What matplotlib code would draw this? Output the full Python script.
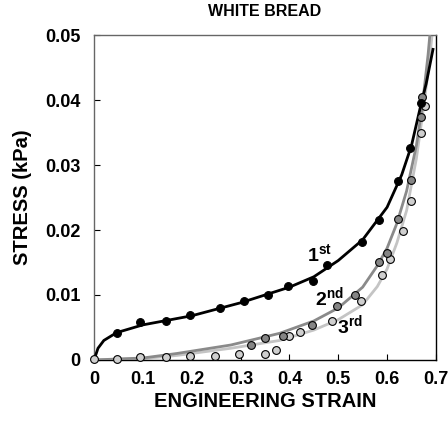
import matplotlib
matplotlib.use("Agg")
import matplotlib.pyplot as plt

plt.rcParams['font.family'] = ['Liberation Sans', 'DejaVu Sans']
plt.rcParams['font.weight'] = 'bold'
plt.rcParams['mathtext.fontset'] = 'custom'
plt.rcParams['mathtext.bf'] = 'Liberation Sans:bold'
plt.rcParams['mathtext.rm'] = 'Liberation Sans:bold'

# 1st compression cycle: measured points and fitted curve
strain_1 = [0.046, 0.095, 0.148, 0.197, 0.258, 0.307, 0.357, 0.398, 0.448,
            0.476, 0.548, 0.584, 0.623, 0.647, 0.670]
stress_1 = [0.0041, 0.0058, 0.0060, 0.0069, 0.0080, 0.0091, 0.0100, 0.0114,
            0.0122, 0.0146, 0.0181, 0.0215, 0.0275, 0.0326, 0.0396]
fit_strain_1 = [0.0, 0.008, 0.02, 0.046, 0.1, 0.2, 0.3, 0.4, 0.45, 0.5, 0.55,
                0.6, 0.63, 0.65, 0.67, 0.68, 0.694]
fit_stress_1 = [0.0, 0.0018, 0.0030, 0.0042, 0.0054, 0.0068, 0.0088, 0.0112,
                0.0128, 0.0153, 0.0185, 0.0235, 0.0285, 0.0330, 0.0395,
                0.0425, 0.0478]

# 2nd cycle
strain_2 = [0.322, 0.349, 0.387, 0.447, 0.498, 0.534, 0.584, 0.599, 0.623,
            0.648, 0.670, 0.672]
stress_2 = [0.0023, 0.0034, 0.0037, 0.0054, 0.0083, 0.0100, 0.0151, 0.0165,
            0.0217, 0.0277, 0.0374, 0.0405]
fit_strain_2 = [0.0, 0.1, 0.17, 0.28, 0.38, 0.45, 0.5, 0.55, 0.58, 0.6, 0.62,
                0.64, 0.66, 0.672, 0.684, 0.69]
fit_stress_2 = [0.0, 0.0003, 0.0010, 0.0023, 0.0041, 0.0060, 0.0080, 0.0112,
                0.0145, 0.0172, 0.0210, 0.0260, 0.0330, 0.0390, 0.0470, 0.0520]

# 3rd cycle
strain_3 = [0.0, 0.046, 0.095, 0.147, 0.197, 0.247, 0.297, 0.349, 0.372,
            0.399, 0.421, 0.487, 0.546, 0.589, 0.607, 0.633, 0.648, 0.669,
            0.677]
stress_3 = [0.0002, 0.0002, 0.0004, 0.0004, 0.0006, 0.0006, 0.0009, 0.0009,
            0.0016, 0.0037, 0.0043, 0.0060, 0.0091, 0.0130, 0.0155, 0.0199,
            0.0244, 0.0350, 0.0391]
fit_strain_3 = [0.0, 0.1, 0.17, 0.28, 0.38, 0.45, 0.5, 0.55, 0.58, 0.6, 0.62,
                0.64, 0.66, 0.675, 0.685, 0.695]
fit_stress_3 = [0.0, 0.0002, 0.0007, 0.0018, 0.0030, 0.0046, 0.0062, 0.0085,
                0.0113, 0.0140, 0.0180, 0.0230, 0.0310, 0.0390, 0.0450, 0.0520]

xticks = [0, 0.1, 0.2, 0.3, 0.4, 0.5, 0.6, 0.7]
xtick_labels = ['0', '0.1', '0.2', '0.3', '0.4', '0.5', '0.6', '0.7']
yticks = [0, 0.01, 0.02, 0.03, 0.04, 0.05]
ytick_labels = ['0', '0.01', '0.02', '0.03', '0.04', '0.05']

fig = plt.figure(figsize=(4.48, 4.28), dpi=100)
ax = fig.add_axes([0.21, 0.159, 0.763, 0.759])

# fitted curves
ax.plot(fit_strain_3, fit_stress_3, color='#c4c4c4', lw=2, zorder=2)
ax.plot(fit_strain_2, fit_stress_2, color='#8a8a8a', lw=2, zorder=3)
ax.plot(fit_strain_1, fit_stress_1, color='black', lw=2, zorder=4)

# measured points
ms = 5.6
ax.plot(strain_3, stress_3, 'o', ms=ms, mfc='#cfcfcf', mec='black', mew=0.8,
        zorder=5, clip_on=False)
ax.plot(strain_2, stress_2, 'o', ms=ms, mfc='#858585', mec='black', mew=0.8,
        zorder=6)
ax.plot(strain_1, stress_1, 'o', ms=ms, mfc='black', mec='black', mew=0.8,
        zorder=7)

ax.text(0.462, 0.0163, r'$\mathbf{1^{st}}$', fontsize=14, ha='center', va='center')
ax.text(0.482, 0.0097, r'$\mathbf{2^{nd}}$', fontsize=14, ha='center', va='center')
ax.text(0.524, 0.0054, r'$\mathbf{3^{rd}}$', fontsize=14, ha='center', va='center')

ax.set_xlim(0, 0.7)
ax.set_ylim(0, 0.05)
ax.set_xticks(xticks)
ax.set_xticklabels(xtick_labels, fontsize=13, fontweight='bold')
ax.set_yticks(yticks)
ax.set_yticklabels(ytick_labels, fontsize=13, fontweight='bold')
ax.tick_params(axis='x', direction='in', length=4, pad=8, width=0.8)
ax.tick_params(axis='y', direction='in', length=4, pad=10, width=0.8)

ax.set_xlabel('ENGINEERING STRAIN', fontsize=14.5, fontweight='bold', labelpad=3)
ax.set_ylabel('STRESS (kPa)', fontsize=14.5, fontweight='bold', labelpad=9)
ax.set_title('WHITE BREAD', fontsize=11.5, fontweight='bold', pad=14)

for side in ['top', 'left']:
    ax.spines[side].set_color('#666666')
for side in ['bottom', 'right']:
    ax.spines[side].set_color('black')
for sp in ax.spines.values():
    sp.set_linewidth(1.0)

fig.savefig('out.png', dpi=100)
